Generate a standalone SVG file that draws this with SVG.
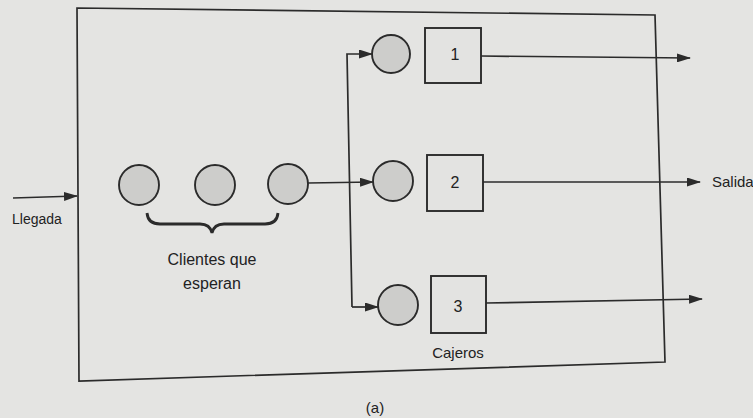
<svg xmlns="http://www.w3.org/2000/svg" width="753" height="418" viewBox="0 0 753 418">
<style>
.ln{stroke:#2b2b2b;stroke-width:1.7;fill:none}
.br{stroke:#2b2b2b;stroke-width:2.8;fill:none}
.q{fill:#cdcdcb;stroke:#2b2b2b;stroke-width:1.9}
.bx{fill:#e3e3e1;stroke:#2b2b2b;stroke-width:1.9}
.t{font-family:"Liberation Sans",Arial,sans-serif;fill:#222}
</style>
<defs>
<marker id="ah" markerWidth="14" markerHeight="9" refX="13" refY="4.5" orient="auto" markerUnits="userSpaceOnUse">
<path d="M0,0 L14,4.5 L0,9 Z" fill="#2b2b2b"/>
</marker>
</defs>
<rect width="753" height="418" fill="#e4e4e2"/>
<g id="system">
<path class="ln" d="M77,8 L655,15 L665,362 L79,381 Z"/>
</g>
<g id="queue1"><circle class="q" cx="139" cy="185" r="20"/></g>
<g id="queue2"><circle class="q" cx="215" cy="185" r="20"/></g>
<g id="queue3"><circle class="q" cx="288" cy="184" r="20"/></g>
<g id="brace">
<path class="br" d="M147,213 Q148,224 160,224 L200,224 Q210,224 212,233 Q214,224 224,224 L265,224 Q277,224 278,213"/>
</g>
<g id="waitingLabel">
<text class="t" x="212" y="265" font-size="16" text-anchor="middle">Clientes que</text>
<text class="t" x="212" y="289" font-size="16" text-anchor="middle">esperan</text>
</g>
<g id="server1">
<circle class="q" cx="391" cy="54" r="19"/>
<rect class="bx" x="425" y="28" width="56" height="55"/>
<text class="t" x="455" y="60" font-size="16" text-anchor="middle">1</text>
</g>
<g id="server2">
<circle class="q" cx="393" cy="181" r="20"/>
<rect class="bx" x="427" y="155" width="56" height="56"/>
<text class="t" x="455" y="188" font-size="16" text-anchor="middle">2</text>
</g>
<g id="server3">
<circle class="q" cx="398" cy="305" r="20"/>
<rect class="bx" x="431" y="276" width="55" height="57"/>
<text class="t" x="458" y="312" font-size="16" text-anchor="middle">3</text>
</g>
<g id="labels">
<text class="t" x="458" y="358" font-size="15" text-anchor="middle">Cajeros</text>
<text class="t" x="12" y="224" font-size="14">Llegada</text>
<text class="t" x="712" y="187" font-size="15">Salida</text>
<text class="t" x="375" y="413" font-size="15" text-anchor="middle">(a)</text>
</g>
<g id="connectors">
<line class="ln" x1="13" y1="198" x2="77" y2="196" marker-end="url(#ah)"/>
<line class="ln" x1="308" y1="183" x2="373" y2="182" marker-end="url(#ah)"/>
<polyline class="ln" points="352,307 347,54 372,54" marker-end="url(#ah)"/>
<line class="ln" x1="352" y1="307" x2="378" y2="307" marker-end="url(#ah)"/>
<line class="ln" x1="481" y1="56" x2="690" y2="58" marker-end="url(#ah)"/>
<line class="ln" x1="483" y1="182" x2="700" y2="182" marker-end="url(#ah)"/>
<line class="ln" x1="486" y1="303" x2="702" y2="299" marker-end="url(#ah)"/>
</g>
</svg>
